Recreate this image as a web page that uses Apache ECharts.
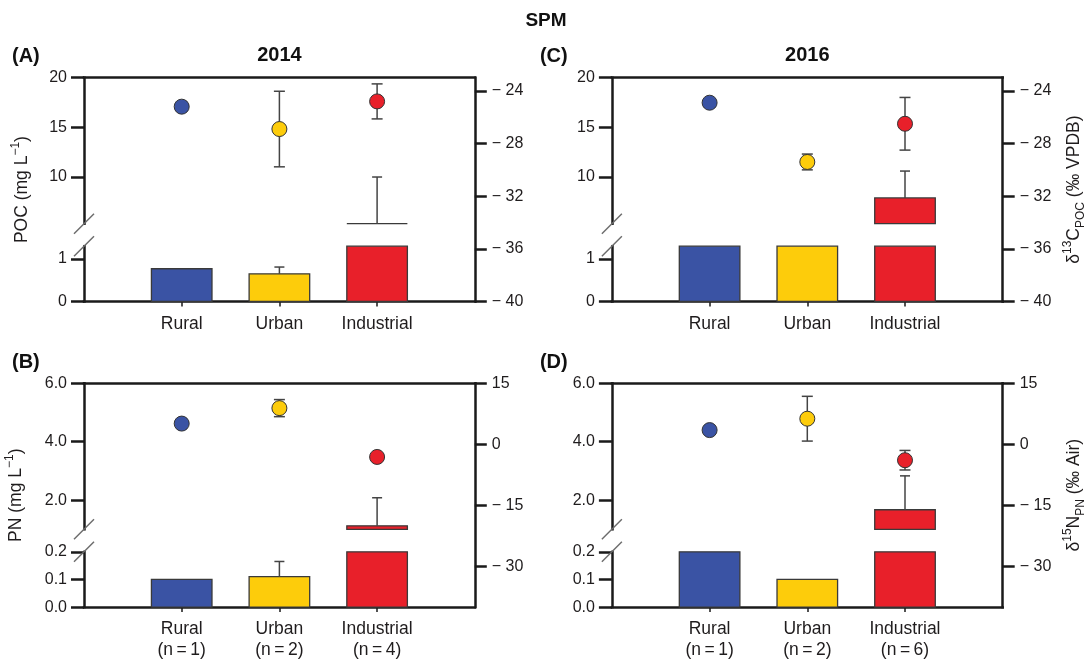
<!DOCTYPE html>
<html><head><meta charset="utf-8">
<script src="https://cdn.jsdelivr.net/npm/echarts@6/dist/echarts.min.js"></script>
<style>html,body{margin:0;padding:0;background:#fff}#c{width:1092px;height:662px}</style>
</head><body><div id="c"></div>
<script>
// ---------------- DATA ----------------
const categories = ['Rural', 'Urban', 'Industrial'];
const sampleSizes2014 = [1, 2, 4];
const sampleSizes2016 = [1, 2, 6];

// (A) 2014 POC (mg/L) bars and δ13C-POC points
const poc2014 = [0.77, 0.65, 5.3];
const poc2014Err = [0, 0.16, 4.7];
const d13C2014 = [-25.2, -26.9, -24.8];
const d13C2014Err = [0, 2.87, 1.33];

// (C) 2016 POC and δ13C-POC (Rural/Urban bars lie inside the axis break)
const poc2016 = [3.0, 3.0, 7.9];
const poc2016Err = [0, 0, 2.7];
const d13C2016 = [-24.9, -29.4, -26.5];
const d13C2016Err = [0, 0.6, 2.0];

// (B) 2014 PN (mg/L) and δ15N-PN
const pn2014 = [0.10, 0.11, 1.12];
const pn2014Err = [0, 0.055, 0.96];
const d15N2014 = [5.1, 8.9, -3.1];
const d15N2014Err = [0, 2.1, 0];

// (D) 2016 PN and δ15N-PN (Rural bar lies inside the axis break)
const pn2016 = [0.5, 0.10, 1.67];
const pn2016Err = [0, 0, 1.16];
const d15N2016 = [3.5, 6.3, -3.9];
const d15N2016Err = [0, 5.5, 2.4];

// Axis ranges and tick labels
const pocUpperRange = [5.3, 20], pocLowerRange = [0, 1.3];
const pocUpperTicks = [10, 15, 20], pocLowerTicks = [0, 1];
const d13CRange = [-40, -23];
const d13CTicks = [-40, -36, -32, -28, -24];
const pnUpperRange = [1, 6], pnLowerRange = [0, 0.2];
const pnUpperTicks = [2, 4, 6], pnLowerTicks = [0, 0.1, 0.2];
const d15NRange = [-40, 15];
const d15NTicks = [-30, -15, 0, 15];

// ---------------- STYLE / LAYOUT ----------------
const FONT = "'Liberation Sans', Arial, Helvetica, sans-serif";
const TXT = '#1f1c1d';
const AXIS = '#1a1a1a';
const colors = ['#3A53A4', '#FDCC0B', '#E8202A'];
const COL_LEFT = [84, 611.9];
const PLOT_W = 390.8;
const ROW_TOP = [77.7, 383.3];
const UP_H = 146, GAP = 22.5, LOW_H = 55.3;
const FULL_H = UP_H + GAP + LOW_H;
const BAR_HALF = 0.31;

const kinds = {
  C: { upper: pocUpperRange, lower: pocLowerRange, upT: pocUpperTicks, lowT: pocLowerTicks,
       right: d13CRange, rightT: d13CTicks, dec: 0,
       leftName: '{a|POC (mg L}{s|\u22121}{a|)}',
       rightName: '{a|\u03b4}{s|13}{a|C}{b|POC}{a| (\u2030 VPDB)}', leftGap: 49 },
  N: { upper: pnUpperRange, lower: pnLowerRange, upT: pnUpperTicks, lowT: pnLowerTicks,
       right: d15NRange, rightT: d15NTicks, dec: 1,
       leftName: '{a|PN (mg L}{s|\u22121}{a|)}',
       rightName: '{a|\u03b4}{s|15}{a|N}{b|PN}{a| (\u2030 Air)}', leftGap: 55 }
};

const panels = [
  { label: '(A)', year: '2014', col: 0, row: 0, kind: 'C', bars: poc2014, barErr: poc2014Err, pts: d13C2014, ptErr: d13C2014Err, n: null },
  { label: '(C)', year: '2016', col: 1, row: 0, kind: 'C', bars: poc2016, barErr: poc2016Err, pts: d13C2016, ptErr: d13C2016Err, n: null },
  { label: '(B)', year: '', col: 0, row: 1, kind: 'N', bars: pn2014, barErr: pn2014Err, pts: d15N2014, ptErr: d15N2014Err, n: sampleSizes2014 },
  { label: '(D)', year: '', col: 1, row: 1, kind: 'N', bars: pn2016, barErr: pn2016Err, pts: d15N2016, ptErr: d15N2016Err, n: sampleSizes2016 }
];

const nameRich = {
  a: { fontSize: 17.5, lineHeight: 25, fontFamily: FONT, color: TXT },
  s: { fontSize: 12, lineHeight: 13, fontFamily: FONT, color: TXT, verticalAlign: 'top' },
  b: { fontSize: 12, lineHeight: 13, fontFamily: FONT, color: TXT, verticalAlign: 'bottom' }
};

function fmtRight(v) { return v < 0 ? '\u2212 ' + (-v) : String(v); }

function barRender(range) {
  return function (params, api) {
    const x = api.value(0), v = api.value(1), e = api.value(2);
    const lo = range[0], hi = range[1];
    const children = [];
    const col = colors[params.dataIndex];
    if (v >= lo) {
      const top = Math.min(v, hi);
      const p0 = api.coord([x - BAR_HALF, lo]);
      const p1 = api.coord([x + BAR_HALF, top]);
      children.push({ type: 'rect',
        shape: { x: p0[0], y: p1[1], width: p1[0] - p0[0], height: p0[1] - p1[1] },
        style: { fill: col, stroke: '#3a3a3a', lineWidth: 1.3 } });
    }
    if (e > 0 && v >= lo && v <= hi) {
      const a = api.coord([x, v]);
      const b = api.coord([x, Math.min(v + e, hi)]);
      children.push({ type: 'line', shape: { x1: a[0], y1: a[1], x2: b[0], y2: b[1] }, style: { stroke: '#444', lineWidth: 1.5 } });
      children.push({ type: 'line', shape: { x1: b[0] - 5, y1: b[1], x2: b[0] + 5, y2: b[1] }, style: { stroke: '#444', lineWidth: 1.5 } });
    }
    return { type: 'group', children };
  };
}

function errRender(params, api) {
  const x = api.value(0), v = api.value(1), e = api.value(2);
  if (!(e > 0)) return { type: 'group', children: [] };
  const a = api.coord([x, v - e]), b = api.coord([x, v + e]);
  const st = { stroke: '#444', lineWidth: 1.5 };
  return { type: 'group', children: [
    { type: 'line', shape: { x1: a[0], y1: a[1], x2: b[0], y2: b[1] }, style: st },
    { type: 'line', shape: { x1: a[0] - 5.5, y1: a[1], x2: a[0] + 5.5, y2: a[1] }, style: st },
    { type: 'line', shape: { x1: b[0] - 5.5, y1: b[1], x2: b[0] + 5.5, y2: b[1] }, style: st }
  ] };
}

const grid = [], xAxis = [], yAxis = [], series = [], graphic = [];
const axisLineStyle = { color: AXIS, width: 2.5, cap: 'square' };
const labelBase = { fontFamily: FONT, color: TXT, fontSize: 16 };

panels.forEach((p, k) => {
  const K = kinds[p.kind];
  const left = COL_LEFT[p.col], top = ROW_TOP[p.row];
  grid.push({ left: left, top: top, width: PLOT_W, height: FULL_H });
  grid.push({ left: left, top: top, width: PLOT_W, height: UP_H });
  grid.push({ left: left, top: top + UP_H + GAP, width: PLOT_W, height: LOW_H });
  const gF = 3 * k, gU = 3 * k + 1, gL = 3 * k + 2;
  const xv = [1, 2, 3];

  // x axes
  xAxis.push({ type: 'value', gridIndex: gF, position: 'bottom', min: 0, max: 4,
    axisLine: { show: true, onZero: false, lineStyle: axisLineStyle },
    axisTick: { show: true, customValues: xv, length: 5, inside: false, lineStyle: { color: AXIS, width: 1.5 } },
    axisLabel: { customValues: xv, margin: 12, fontFamily: FONT, color: TXT, fontSize: 17.5, lineHeight: 21,
      formatter: v => { const i = Math.round(v) - 1; return categories[i] + (p.n ? '\n(n\u2009=\u2009' + p.n[i] + ')' : ''); } },
    splitLine: { show: false } });
  xAxis.push({ type: 'value', gridIndex: gF, position: 'top', min: 0, max: 4,
    axisLine: { show: true, onZero: false, lineStyle: axisLineStyle },
    axisTick: { show: false }, axisLabel: { show: false }, splitLine: { show: false } });
  xAxis.push({ type: 'value', gridIndex: gU, min: 0, max: 4, show: false });
  xAxis.push({ type: 'value', gridIndex: gL, min: 0, max: 4, show: false });

  // y axes
  yAxis.push({ type: 'value', gridIndex: gF, position: 'right', min: K.right[0], max: K.right[1],
    axisLine: { show: true, onZero: false, lineStyle: axisLineStyle },
    axisTick: { show: true, customValues: K.rightT, length: 12, lineStyle: { color: AXIS, width: 2.5 } },
    axisLabel: Object.assign({ customValues: K.rightT, margin: 17, formatter: fmtRight }, labelBase),
    splitLine: { show: false },
    name: p.col === 1 ? K.rightName : '', nameLocation: 'middle', nameRotate: 90, nameGap: 59,
    nameTextStyle: { rich: nameRich } });
  yAxis.push({ type: 'value', gridIndex: gF, position: 'left', min: 0, max: 1,
    axisLine: { show: false, onZero: false }, axisTick: { show: false }, axisLabel: { show: false }, splitLine: { show: false },
    name: p.col === 0 ? K.leftName : '', nameLocation: 'middle', nameRotate: 90, nameGap: K.leftGap,
    nameTextStyle: { rich: nameRich } });
  yAxis.push({ type: 'value', gridIndex: gU, position: 'left', min: K.upper[0], max: K.upper[1],
    axisLine: { show: true, onZero: false, lineStyle: axisLineStyle },
    axisTick: { show: true, customValues: K.upT, length: 13, lineStyle: { color: AXIS, width: 2.5 } },
    axisLabel: Object.assign({ customValues: K.upT, margin: 17, formatter: v => v.toFixed(K.dec) }, labelBase),
    splitLine: { show: false } });
  yAxis.push({ type: 'value', gridIndex: gL, position: 'left', min: K.lower[0], max: K.lower[1],
    axisLine: { show: true, onZero: false, lineStyle: axisLineStyle },
    axisTick: { show: true, customValues: K.lowT, length: 13, lineStyle: { color: AXIS, width: 2.5 } },
    axisLabel: Object.assign({ customValues: K.lowT, margin: 17, formatter: v => v.toFixed(K.dec) }, labelBase),
    splitLine: { show: false } });

  const barData = categories.map((c, i) => [i + 1, p.bars[i], p.barErr[i]]);
  series.push({ type: 'custom', xAxisIndex: 4 * k + 2, yAxisIndex: 4 * k + 2, renderItem: barRender(K.upper), data: barData, z: 2, silent: true, animation: false });
  series.push({ type: 'custom', xAxisIndex: 4 * k + 3, yAxisIndex: 4 * k + 3, renderItem: barRender(K.lower), data: barData, z: 2, silent: true, animation: false });
  series.push({ type: 'custom', xAxisIndex: 4 * k, yAxisIndex: 4 * k, renderItem: errRender,
    data: categories.map((c, i) => [i + 1, p.pts[i], p.ptErr[i]]), z: 3, silent: true, animation: false });
  series.push({ type: 'scatter', xAxisIndex: 4 * k, yAxisIndex: 4 * k, symbol: 'circle', symbolSize: 15, z: 4, silent: true, animation: false,
    data: categories.map((c, i) => ({ value: [i + 1, p.pts[i]], itemStyle: { color: colors[i], opacity: 1, borderColor: '#333', borderWidth: 1 } })) });

  // axis break slashes (positioned from the grid layout)
  const yb1 = top + UP_H, yb2 = top + UP_H + GAP;
  [yb1, yb2].forEach(yy => {
    graphic.push({ type: 'line', shape: { x1: left - 10, y1: yy + 10, x2: left + 10, y2: yy - 10 },
      style: { stroke: '#6b6b6b', lineWidth: 1.4 }, z: 10 });
  });

  // panel label and year
  graphic.push({ type: 'text', x: left - 72, y: top - 21,
    style: { text: p.label, font: 'bold 20px ' + FONT, fill: '#111', textAlign: 'left', textVerticalAlign: 'middle', align: 'left', verticalAlign: 'middle' } });
  if (p.year) graphic.push({ type: 'text', x: left + PLOT_W / 2, y: top - 22,
    style: { text: p.year, font: 'bold 20px ' + FONT, fill: '#111', textAlign: 'center', textVerticalAlign: 'middle', align: 'center', verticalAlign: 'middle' } });
});

graphic.push({ type: 'text', x: 546, y: 21,
  style: { text: 'SPM', font: 'bold 19px ' + FONT, fill: '#111', textAlign: 'center', textVerticalAlign: 'middle', align: 'center', verticalAlign: 'middle' } });

const chart = echarts.init(document.getElementById('c'), null, { renderer: 'canvas' });
chart.setOption({ animation: false, backgroundColor: '#fff', grid, xAxis, yAxis, series, graphic });
</script></body></html>
